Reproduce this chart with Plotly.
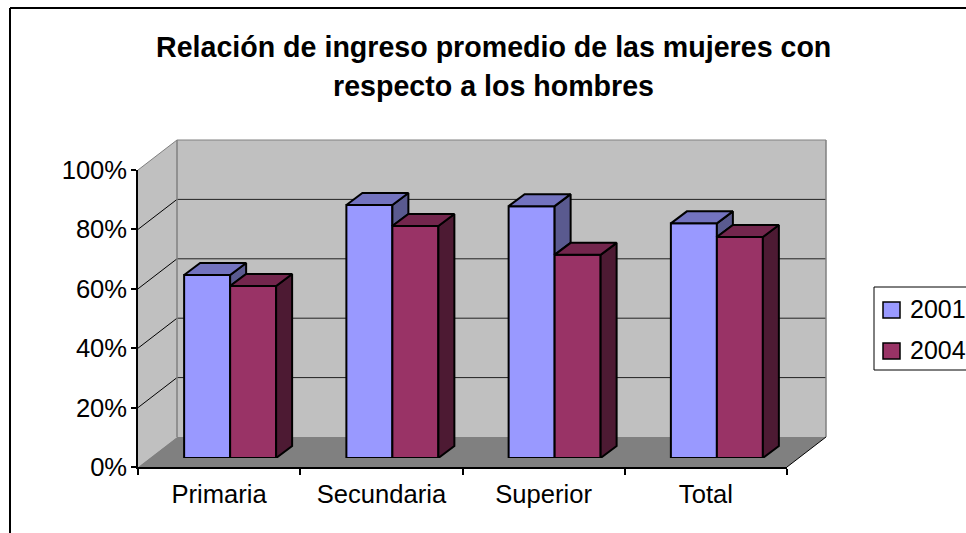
import plotly.graph_objects as go

categories = ["Primaria", "Secundaria", "Superior", "Total"]
valores_2001 = [61.6, 85.2, 84.8, 79.0]
valores_2004 = [57.9, 78.1, 68.4, 74.4]
ticks_y = [0, 20, 40, 60, 80, 100]
etiquetas_y = ["0%", "20%", "40%", "60%", "80%", "100%"]
titulo = ["Relación de ingreso promedio de las mujeres con", "respecto a los hombres"]

W, H = 966, 533
FUENTE = "Liberation Sans, Arial, sans-serif"

# plano frontal del eje, en pixeles
X0, X1 = 138, 787
Y0, Y1 = 467, 170
# profundidad de las paredes, del plano de las barras y de cada barra
PARED_X, PARED_Y = 39, 30
PLANO_X, PLANO_Y = 11, 9
BARRA_X, BARRA_Y = 16, 12

AZUL = dict(frente="#9999FF", arriba="#7373BF", lado="#5A5A8F")
VINO = dict(frente="#993366", arriba="#73264D", lado="#4D1A33")


def px(x):
    return x / W


def py(y):
    return 1 - y / H


def poligono(puntos, relleno, borde="rgba(0,0,0,0)", ancho=0, capa="below"):
    ruta = "M" + " L".join(f"{px(x)},{py(y)}" for x, y in puntos) + " Z"
    return dict(type="path", xref="paper", yref="paper", path=ruta, fillcolor=relleno,
                line=dict(color=borde, width=ancho), layer=capa)


def linea(x0, y0, x1, y1, color="black", ancho=1):
    return dict(type="line", xref="paper", yref="paper", x0=px(x0), y0=py(y0), x1=px(x1), y1=py(y1),
                line=dict(color=color, width=ancho), layer="below")


def y_pixel(v):
    return Y0 + (Y1 - Y0) * v / 100


fig = go.Figure()

# traza vacia para que se dibuje el eje principal
fig.add_trace(go.Scatter(x=categories, y=[0] * 4, mode="markers", marker=dict(opacity=0),
                         hoverinfo="skip", showlegend=False))

for nombre, valores, tonos in [("2001", valores_2001, AZUL), ("2004", valores_2004, VINO)]:
    fig.add_trace(go.Bar(x=list(range(len(categories))), y=valores, name=nombre, xaxis="x2", yaxis="y2",
                         marker=dict(color=tonos["frente"], line=dict(color="black", width=2)),
                         showlegend=False))

# caras laterales y superiores, calculadas desde los valores
ancho_cat = (X1 - X0) / len(categories)
GAP = 0.433
ancho_barra = (1 - GAP) / 2
dx = BARRA_X / ancho_cat
dy = BARRA_Y / ((Y0 - Y1) / 100)


def cara(xs, ys, color):
    fig.add_trace(go.Scatter(x=xs, y=ys, xaxis="x2", yaxis="y2", mode="lines", fill="toself", fillcolor=color,
                             line=dict(color="black", width=2), hoverinfo="skip", showlegend=False))


for i in range(len(categories)):
    a, b = valores_2001[i], valores_2004[i]
    izq, med, der = i - ancho_barra, i, i + ancho_barra
    cara([med, med + dx, med + dx, med, med], [a, a + dy, b + dy, b, a], AZUL["lado"])
    cara([izq, izq + dx, med + dx, med, izq], [a, a + dy, a + dy, a, a], AZUL["arriba"])
    cara([der, der + dx, der + dx, der, der], [b, b + dy, dy, 0, b], VINO["lado"])
    cara([med, med + dx, der + dx, der, med], [b, b + dy, b + dy, b, b], VINO["arriba"])

# paredes y piso
formas = [
    linea(10, 8, W + 5, 8, ancho=2),
    linea(10, 8, 10, H + 5, ancho=2),
    poligono([(X0, Y1), (X0 + PARED_X, Y1 - PARED_Y), (X0 + PARED_X, Y0 - PARED_Y), (X0, Y0)], "#C0C0C0"),
    poligono([(X0 + PARED_X, Y1 - PARED_Y), (X1 + PARED_X, Y1 - PARED_Y), (X1 + PARED_X, Y0 - PARED_Y),
              (X0 + PARED_X, Y0 - PARED_Y)], "#C0C0C0"),
    poligono([(X0, Y0), (X1, Y0), (X1 + PARED_X, Y0 - PARED_Y), (X0 + PARED_X, Y0 - PARED_Y)], "#808080"),
]
for t in ticks_y[1:]:
    y = y_pixel(t)
    color = "#808080" if t == 100 else "#000000"
    formas.append(linea(X0, y, X0 + PARED_X, y - PARED_Y, color=color))
    formas.append(linea(X0 + PARED_X, y - PARED_Y, X1 + PARED_X, y - PARED_Y, color="#808080" if t == 100 else "#222222"))
formas += [
    linea(X0 + PARED_X, Y1 - PARED_Y, X0 + PARED_X, Y0 - PARED_Y, color="#808080", ancho=1.5),
    linea(X1 + PARED_X, Y1 - PARED_Y, X1 + PARED_X, Y0 - PARED_Y, color="#808080", ancho=1.5),
    linea(X1, Y0, X1 + PARED_X, Y0 - PARED_Y),
]

# leyenda
formas.append(dict(type="rect", xref="paper", yref="paper", x0=px(874), x1=px(W + 5), y0=py(287), y1=py(370),
                   fillcolor="white", line=dict(color="black", width=1), layer="below"))
notas = []
for nombre, tonos, yc in [("2001", AZUL, 310), ("2004", VINO, 351)]:
    formas.append(dict(type="rect", xref="paper", yref="paper", x0=px(883), x1=px(900), y0=py(yc - 8), y1=py(yc + 8),
                       fillcolor=tonos["frente"], line=dict(color="black", width=1.5), layer="below"))
    notas.append(dict(text=nombre, xref="paper", yref="paper", x=px(908), y=py(yc - 1), xanchor="left",
                      yanchor="middle", showarrow=False, font=dict(size=25, color="black", family=FUENTE)))

for texto, yc in zip(titulo, [47, 86]):
    notas.append(dict(text=f"<b>{texto}</b>", xref="paper", yref="paper", x=px(493), y=py(yc), xanchor="center",
                      yanchor="middle", showarrow=False, font=dict(size=28.6, color="black", family=FUENTE)))

fig.update_layout(
    width=W, height=H, autosize=False,
    margin=dict(l=0, r=0, t=0, b=0, autoexpand=False),
    paper_bgcolor="white", plot_bgcolor="rgba(0,0,0,0)",
    barmode="group", bargap=GAP, bargroupgap=0,
    showlegend=False, shapes=formas, annotations=notas,
    font=dict(family=FUENTE, size=25.6, color="black"),
    xaxis=dict(domain=[px(X0), px(X1)], type="category", categoryorder="array", categoryarray=categories,
               range=[-0.5, 3.5], tickson="boundaries", ticks="outside", ticklen=6, tickcolor="black",
               tickwidth=1.5, ticklabelstandoff=4, showgrid=False, showline=True, linecolor="black", linewidth=1.5,
               anchor="y"),
    yaxis=dict(domain=[py(Y0), py(Y1)], range=[0, 100], tickvals=ticks_y, ticktext=etiquetas_y, ticks="outside",
               ticklen=5, tickcolor="black", tickwidth=1.5, ticklabelstandoff=-1, showgrid=False, zeroline=False,
               showline=True, linecolor="black", linewidth=1.5, anchor="x"),
    xaxis2=dict(domain=[px(X0 + PLANO_X), px(X1 + PLANO_X)], range=[-0.5, 3.5], visible=False, anchor="y2"),
    yaxis2=dict(domain=[py(Y0 - PLANO_Y), py(Y1 - PLANO_Y)], range=[0, 100], visible=False, anchor="x2"),
)

fig.write_html("out.html", config=dict(displayModeBar=False),
               post_script="document.body.style.margin='0';document.body.style.overflow='hidden';")
